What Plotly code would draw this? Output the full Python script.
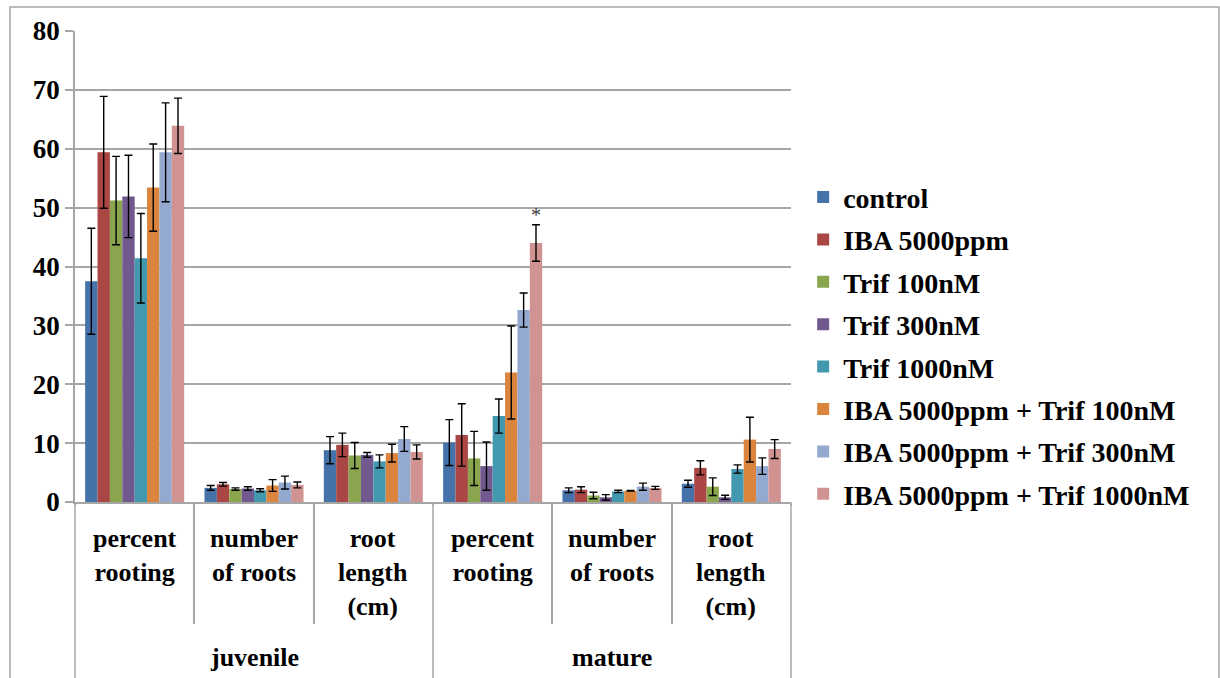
import plotly.graph_objects as go

stages = ["juvenile", "juvenile", "juvenile", "mature", "mature", "mature"]
measures = ["percent rooting", "number of roots", "root length (cm)",
            "percent rooting", "number of roots", "root length (cm)"]
measure_labels = ["percent<br>rooting", "number<br>of roots", "root<br>length<br>(cm)",
                  "percent<br>rooting", "number<br>of roots", "root<br>length<br>(cm)"]
stage_labels = ["juvenile", "mature"]

series_names = ["control", "IBA 5000ppm", "Trif 100nM", "Trif 300nM", "Trif 1000nM",
                "IBA 5000ppm + Trif 100nM", "IBA 5000ppm + Trif 300nM", "IBA 5000ppm + Trif 1000nM"]
colors = ["#4672AA", "#AA4643", "#89A54E", "#71588F", "#4198AF", "#DB843D", "#93A9CF", "#D19392"]

values = [
    [37.5, 2.4, 8.8, 10.1, 2.0, 3.1],
    [59.4, 3.0, 9.7, 11.4, 2.1, 5.8],
    [51.2, 2.2, 7.9, 7.4, 1.1, 2.6],
    [51.9, 2.3, 8.0, 6.1, 0.8, 0.8],
    [41.4, 2.0, 6.9, 14.6, 1.8, 5.6],
    [53.4, 2.8, 8.3, 22.0, 1.9, 10.6],
    [59.4, 3.3, 10.7, 32.6, 2.6, 6.1],
    [63.9, 2.9, 8.5, 44.0, 2.4, 9.0],
]
errors = [
    [9.0, 0.4, 2.3, 3.9, 0.4, 0.6],
    [9.5, 0.3, 2.0, 5.3, 0.5, 1.2],
    [7.5, 0.2, 2.2, 4.6, 0.55, 1.5],
    [7.0, 0.3, 0.4, 4.1, 0.45, 0.35],
    [7.6, 0.25, 1.1, 2.9, 0.2, 0.7],
    [7.4, 1.0, 1.5, 7.9, 0.05, 3.8],
    [8.4, 1.1, 2.1, 2.9, 0.6, 1.4],
    [4.7, 0.5, 1.2, 3.1, 0.25, 1.6],
]
star_value = 48.8

FONT = "Liberation Serif"
GRID = "#A6A6A6"

# plot-area pixel frame (used only to convert layout positions to paper units)
PL, PR, PT, PB = 75, 791, 31, 502
def py(p):
    return (PB - p) / (PB - PT)
def px(p):
    return (p - PL) / (PR - PL)

fig = go.Figure()
for name, col, vals, errs in zip(series_names, colors, values, errors):
    fig.add_trace(go.Bar(
        x=[stages, measures], y=vals, name=name,
        marker=dict(color=col, line=dict(width=0)),
        error_y=dict(type="data", array=errs, visible=True, color="black",
                     thickness=1.4, width=4),
        legendgroup=name,
    ))

n = len(series_names)
gap = 0.17
bw = (1 - gap) / n
star_x = 3 - (1 - gap) / 2 + bw * (n - 0.5)
fig.add_annotation(x=star_x, y=star_value, text="*", showarrow=False,
                   xref="x", yref="y", font=dict(family=FONT, size=20, color="#404040"))

# category labels (inner level)
for i, lab in enumerate(measure_labels):
    fig.add_annotation(x=i, y=py(522), xref="x", yref="paper", text=lab,
                       showarrow=False, yanchor="top", xanchor="center", align="center",
                       font=dict(family=FONT, size=26, color="black", weight="bold"))
# outer level labels
for j, lab in enumerate(stage_labels):
    fig.add_annotation(x=1 + 3 * j, y=py(657), xref="x", yref="paper", text=lab,
                       showarrow=False, yanchor="middle", xanchor="center",
                       font=dict(family=FONT, size=26, color="black", weight="bold"))
# outer dividers
for xv in [0, 0.5, 1]:
    fig.add_shape(type="line", xref="paper", yref="paper", x0=xv, x1=xv,
                  y0=0, y1=py(700), line=dict(color=GRID, width=1.5))

fig.update_layout(
    width=1220, height=678,
    margin=dict(l=PL, r=1220 - PR, t=PT, b=678 - PB),
    paper_bgcolor="white", plot_bgcolor="white",
    barmode="group", bargap=gap, bargroupgap=0,
    showlegend=True,
    legend=dict(x=1.017, xanchor="left", y=0.70, yanchor="top",
                font=dict(family=FONT, size=28, color="black", weight="bold"),
                tracegroupgap=3, itemwidth=30, bgcolor="rgba(0,0,0,0)"),
    font=dict(family=FONT, color="black"),
)
fig.update_yaxes(range=[0, 80], dtick=10, showgrid=True, gridcolor=GRID, gridwidth=1.5,
                 showline=True, linecolor=GRID, linewidth=1.5,
                 ticks="outside", ticklen=8, tickcolor=GRID, tickwidth=1.5,
                 tickfont=dict(family=FONT, size=27, color="black", weight="bold"),
                 zeroline=False)
fig.update_xaxes(type="multicategory", showline=True, linecolor=GRID, linewidth=1.5,
                 ticks="outside", tickson="boundaries", ticklen=120, tickcolor=GRID,
                 tickwidth=1.5, showticklabels=False, showgrid=False)

fig.add_shape(type="rect", xref="paper", yref="paper",
              x0=px(10), x1=px(1219), y0=py(720), y1=py(7),
              line=dict(color=GRID, width=1.5), fillcolor="rgba(0,0,0,0)", layer="below")

fig.write_html("out.html", config={"displayModeBar": False},
               post_script="document.body.style.margin='0px';")
